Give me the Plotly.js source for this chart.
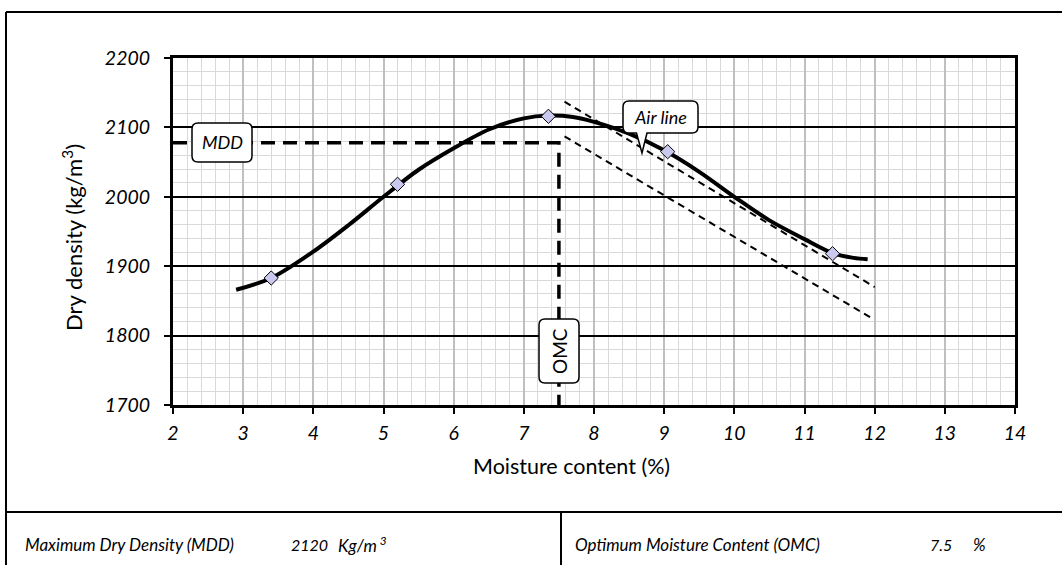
<!DOCTYPE html>
<html>
<head>
<meta charset="utf-8">
<script src="https://cdn.plot.ly/plotly-3.0.1.min.js"></script>
<style>html,body{margin:0;padding:0;background:#fff;}#chart{width:1062px;height:565px;}</style>
</head>
<body>
<div id="chart"></div>
<script>
// ---- Data ----
// Measured compaction test points
const testMoisture = [3.4, 5.2, 7.35, 9.05, 11.4];
const testDensity  = [1883, 2018, 2116, 2065, 1918];
// Fitted compaction curve
const curveMoisture = [2.9, 3.4, 4.0, 4.5, 5.0, 5.5, 6.0, 6.5, 7.0, 7.35, 7.7, 8.0, 8.5, 9.0, 9.5, 10.0, 10.5, 11.0, 11.4, 11.7, 11.9];
const curveDensity  = [1866, 1883, 1921, 1959, 2000, 2039, 2070, 2097, 2113, 2117, 2115, 2108, 2091, 2067, 2036, 2000, 1966, 1939, 1919, 1912, 1910];
// Air void lines
const airLine1Moisture = [7.58, 12.0];
const airLine1Density  = [2137, 1870];
const airLine2Moisture = [7.58, 11.96];
const airLine2Density  = [2087, 1825];
// Reference lines
const mddLineValue = 2078;
const omcLineValue = 7.5;
// Summary values
const mddValue = "2120";
const omcValue = "7.5";
// Axes
const xRange = [2, 14];
const yRange = [1700, 2200];

// ---- Layout geometry (pixels) ----
const W = 1062, H = 565;
const PL = 173, PR = 1015, PT = 58, PB = 405;
const px = p => (p - PL) / (PR - PL);       // pixel x -> paper
const py = p => (PB - p) / (PB - PT);       // pixel y -> paper

function roundRect(x0, y0, x1, y1, r, tail) {
  let d = `M${px(x0 + r)},${py(y0)} L${px(x1 - r)},${py(y0)} Q${px(x1)},${py(y0)} ${px(x1)},${py(y0 + r)} ` +
          `L${px(x1)},${py(y1 - r)} Q${px(x1)},${py(y1)} ${px(x1 - r)},${py(y1)} `;
  if (tail) {
    d += `L${px(tail.b)},${py(y1)} L${px(tail.tx)},${py(tail.ty)} L${px(tail.a)},${py(y1)} `;
  }
  d += `L${px(x0 + r)},${py(y1)} Q${px(x0)},${py(y1)} ${px(x0)},${py(y1 - r)} ` +
       `L${px(x0)},${py(y0 + r)} Q${px(x0)},${py(y0)} ${px(x0 + r)},${py(y0)} Z`;
  return d;
}

const FONT = "Lato, 'Open Sans', sans-serif";

const traces = [
  { x: [xRange[0], omcLineValue, omcLineValue], y: [mddLineValue, mddLineValue, yRange[0]],
    mode: 'lines', line: { color: '#000', width: 3.5, dash: '14px,8px' }, hoverinfo: 'skip' },
  { x: airLine1Moisture, y: airLine1Density, mode: 'lines',
    line: { color: '#000', width: 2, dash: '7px,5px' }, hoverinfo: 'skip' },
  { x: airLine2Moisture, y: airLine2Density, mode: 'lines',
    line: { color: '#000', width: 2, dash: '7px,5px' }, hoverinfo: 'skip' },
  { x: curveMoisture, y: curveDensity, mode: 'lines',
    line: { color: '#000', width: 4, shape: 'spline', smoothing: 0.9 }, hoverinfo: 'skip' },
  { x: testMoisture, y: testDensity, mode: 'markers',
    marker: { symbol: 'diamond', size: 11, color: '#c9c9ef', line: { color: '#000', width: 1 } } }
];

const txt = (x, y, text, opts) => Object.assign({
  xref: 'paper', yref: 'paper', x: px(x), y: py(y), text: text, showarrow: false,
  xanchor: 'left', yanchor: 'middle',
  font: { family: FONT, size: 17, color: '#000', style: 'italic' }
}, opts || {});

const annotations = [
  txt(72, 238, 'Dry density (kg/m<sup>3</sup>)', { xanchor: 'center', textangle: -90,
      font: { family: FONT, size: 22, color: '#000' } }),
  txt(571, 466, 'Moisture content (%)', { xanchor: 'center',
      font: { family: FONT, size: 21.5, color: '#000' } }),
  txt(222, 142, 'MDD', { xanchor: 'center', font: { family: FONT, size: 18, color: '#000', style: 'italic' } }),
  txt(559, 351, 'OMC', { xanchor: 'center', textangle: -90, font: { family: FONT, size: 19, color: '#000' } }),
  txt(660, 117, 'Air line', { xanchor: 'center', font: { family: FONT, size: 18, color: '#000', style: 'italic' } }),
  txt(23, 544, 'Maximum Dry Density (MDD)'),
  txt(289, 544, mddValue, { font: { family: FONT, size: 16, color: '#000', style: 'italic' } }),
  txt(336, 544, 'Kg/m<sup> 3</sup>'),
  txt(573, 544, 'Optimum Moisture Content (OMC)'),
  txt(928, 544, omcValue, { font: { family: FONT, size: 16, color: '#000', style: 'italic' } }),
  txt(971, 544, '%')
];

const frameLine = { color: '#000', width: 2 };
const shapes = [
  { type: 'line', xref: 'paper', yref: 'paper', x0: px(6), x1: px(1062), y0: py(12), y1: py(12), line: frameLine },
  { type: 'line', xref: 'paper', yref: 'paper', x0: px(6), x1: px(6), y0: py(12), y1: py(565), line: frameLine },
  { type: 'line', xref: 'paper', yref: 'paper', x0: px(6), x1: px(1062), y0: py(512), y1: py(512), line: frameLine },
  { type: 'line', xref: 'paper', yref: 'paper', x0: px(561), x1: px(561), y0: py(512), y1: py(565), line: frameLine },
  { type: 'path', xref: 'paper', yref: 'paper', layer: 'above', path: roundRect(192, 123, 252, 162, 6),
    fillcolor: '#fff', line: { color: '#000', width: 1.5 } },
  { type: 'path', xref: 'paper', yref: 'paper', layer: 'above', path: roundRect(539, 319, 579, 383, 6),
    fillcolor: '#fff', line: { color: '#000', width: 1.5 } },
  { type: 'path', xref: 'paper', yref: 'paper', layer: 'above',
    path: roundRect(623, 101, 698, 133, 6, { a: 636.5, b: 647, tx: 642, ty: 153 }),
    fillcolor: '#fff', line: { color: '#000', width: 1.5 } }
];

const axisCommon = {
  showline: true, linecolor: '#000', linewidth: 3, mirror: true,
  ticks: 'outside', ticklen: 6, tickwidth: 2, tickcolor: '#000',
  zeroline: false, showgrid: true,
  tickfont: { family: FONT, size: 19.5, color: '#000', style: 'italic' }
};

const layout = {
  width: W, height: H,
  margin: { l: PL, r: W - PR, t: PT, b: H - PB, pad: 0 },
  paper_bgcolor: '#fff', plot_bgcolor: '#fff',
  showlegend: false,
  xaxis: Object.assign({}, axisCommon, {
    range: xRange, dtick: 1, tick0: 2, gridcolor: '#bfbfbf', gridwidth: 2, ticklabelstandoff: 3,
    minor: { dtick: 0.2, showgrid: true, gridcolor: '#d9d9d9', gridwidth: 1, ticks: '' }
  }),
  yaxis: Object.assign({}, axisCommon, {
    range: yRange, dtick: 100, tick0: 1700, gridcolor: '#000', gridwidth: 2, ticklabelstandoff: 10,
    minor: { dtick: 20, showgrid: true, gridcolor: '#d9d9d9', gridwidth: 1, ticks: '' }
  }),
  annotations: annotations,
  shapes: shapes
};

Plotly.newPlot('chart', traces, layout, { staticPlot: true, displayModeBar: false });
</script>
</body>
</html>
